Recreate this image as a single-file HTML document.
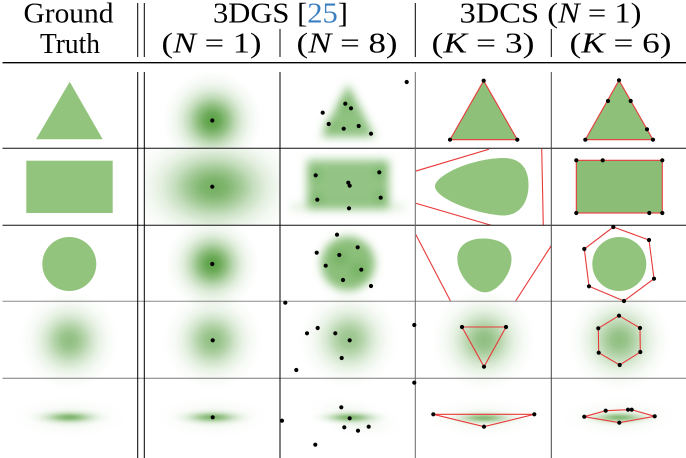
<!DOCTYPE html>
<html><head><meta charset="utf-8"><style>
html,body{margin:0;padding:0;background:#fff;}
svg{display:block;}
svg text{font-family:"Liberation Serif","Times New Roman",serif;fill:#000;}
</style></head><body>
<svg width="686" height="458" viewBox="0 0 686 458" xmlns="http://www.w3.org/2000/svg">
<defs>
<radialGradient id="g">
<stop offset="0" stop-color="#5aa044" stop-opacity="1"/>
<stop offset="0.15" stop-color="#5aa044" stop-opacity="0.9"/>
<stop offset="0.3" stop-color="#5aa044" stop-opacity="0.67"/>
<stop offset="0.45" stop-color="#5aa044" stop-opacity="0.4"/>
<stop offset="0.6" stop-color="#5aa044" stop-opacity="0.2"/>
<stop offset="0.75" stop-color="#5aa044" stop-opacity="0.08"/>
<stop offset="0.9" stop-color="#5aa044" stop-opacity="0.025"/>
<stop offset="1" stop-color="#5aa044" stop-opacity="0"/>
</radialGradient>
<filter id="b4" x="-30%" y="-30%" width="160%" height="160%"><feGaussianBlur stdDeviation="4.5"/></filter>
<clipPath id="c12"><rect x="145" y="149" width="134.5" height="76"/></clipPath>
<clipPath id="c11"><rect x="145" y="64" width="134.5" height="84"/></clipPath>
<clipPath id="c2"><rect x="281" y="64" width="134" height="394"/></clipPath>
<clipPath id="c3r2"><rect x="416" y="149" width="135" height="76"/></clipPath>
<clipPath id="c3r3"><rect x="416" y="226" width="135" height="75"/></clipPath>
</defs>

<g font-family="Liberation Serif, Times New Roman, serif" font-size="29">
<text x="68.5" y="22.5" text-anchor="middle" textLength="90" lengthAdjust="spacingAndGlyphs">Ground</text>
<text x="70" y="53" text-anchor="middle" textLength="60" lengthAdjust="spacingAndGlyphs">Truth</text>
<text x="213" y="22.5" textLength="135" lengthAdjust="spacingAndGlyphs">3DGS [<tspan style="fill:#3a7fc1">25</tspan>]</text>
<text x="161.5" y="52.5" textLength="100" lengthAdjust="spacingAndGlyphs">(<tspan font-style="italic">N</tspan> = 1)</text>
<text x="296.5" y="52.5" textLength="101" lengthAdjust="spacingAndGlyphs">(<tspan font-style="italic">N</tspan> = 8)</text>
<text x="459.5" y="22.5" textLength="182" lengthAdjust="spacingAndGlyphs">3DCS (<tspan font-style="italic">N</tspan> = 1)</text>
<text x="431.5" y="52.5" textLength="103" lengthAdjust="spacingAndGlyphs">(<tspan font-style="italic">K</tspan> = 3)</text>
<text x="569.5" y="52.5" textLength="102" lengthAdjust="spacingAndGlyphs">(<tspan font-style="italic">K</tspan> = 6)</text>
</g>

<path d="M137.7 3V57M144.3 3V57M280 29V57M415.3 3V57M551.3 29V57" stroke="#000" stroke-width="1" fill="none"/>
<line x1="2.5" y1="62.7" x2="686" y2="62.7" stroke="#000" stroke-width="1.4"/>

<!-- ROW 1 -->
<polygon points="69.7,81.7 36,139.3 102.7,139.3" fill="#93c47d"/>
<g clip-path="url(#c11)"><ellipse cx="212.3" cy="120.5" rx="50" ry="50" fill="url(#g)"/></g>
<g clip-path="url(#c2)" filter="url(#b4)">
<polygon points="348,84 321,137 375,137" fill="#6aad55" opacity="0.75"/>
<path d="M345 105m-6 0a6 6 0 1 0 12 0a6 6 0 1 0 -12 0M330 125m-6 0a6 6 0 1 0 12 0a6 6 0 1 0 -12 0" fill="#4f9a3a" opacity="0.3"/>
</g>
<polygon points="483.7,80.7 450,139.7 517.3,139.7" fill="#8fc07a" stroke="#e83a3a" stroke-width="1.1"/>
<polygon points="619,80.3 585.3,139.7 653,139.7" fill="#8fc07a" stroke="#e83a3a" stroke-width="1.1"/>

<!-- ROW 2 -->
<rect x="26.3" y="160.7" width="86.4" height="52.3" fill="#93c47d"/>
<g clip-path="url(#c12)"><ellipse cx="214" cy="187" rx="88" ry="62" fill="url(#g)" opacity="0.85"/></g>
<g clip-path="url(#c2)">
<g filter="url(#b4)">
<rect x="307" y="160" width="82" height="49" fill="#6aad55" opacity="0.72"/>
<rect x="290" y="204" width="115" height="6" fill="#6aad55" opacity="0.22"/>
<path d="M316 175h0M380 172h0M317 199h0M381 197h0" stroke="#4f9a3a" stroke-width="12" stroke-linecap="round" opacity="0.3"/>
</g>
</g>
<path d="M435,186 C436,175 470,159 502,158 C522,157.5 528.5,170 528.5,185 C528.5,202 520,215.5 503,215.5 C476,214.5 434,198 435,186 Z" fill="#93c47d"/>
<path clip-path="url(#c3r2)" d="M415 171.3L489 149.2M415 203L492 225.5M541.7 148L543.3 226" stroke="#e83a3a" stroke-width="1.1" fill="none"/>
<rect x="576.3" y="160.3" width="86" height="52.7" fill="#8bbd77" stroke="#e83a3a" stroke-width="1.1"/>

<!-- ROW 3 -->
<circle cx="69.3" cy="264" r="27" fill="#93c47d"/>
<ellipse cx="212.3" cy="264" rx="47" ry="47" fill="url(#g)"/>
<g filter="url(#b4)">
<circle cx="348" cy="263.5" r="27" fill="#6aad55" opacity="0.78"/>
<path d="M340 258h0M358 270h0" stroke="#4f9a3a" stroke-width="16" stroke-linecap="round" opacity="0.3"/>
</g>
<path d="M483,238.5 C500,238.5 512,246 511.5,260 C511,275 497,292.3 485,292.3 C473,292.3 457,275 457.3,258 C457.5,246 468,238.5 483,238.5 Z" fill="#93c47d"/>
<path clip-path="url(#c3r3)" d="M415 233L451 302M552 244.5L515 302" stroke="#e83a3a" stroke-width="1.1" fill="none"/>
<circle cx="619.3" cy="264" r="27" fill="#93c47d"/>
<polygon points="613.3,227 649,240 654,278.7 624,301 589,286.3 584.3,249" fill="none" stroke="#e83a3a" stroke-width="1.1"/>

<!-- ROW 4 -->
<ellipse cx="69.3" cy="340.5" rx="50" ry="50" fill="url(#g)" opacity="0.68"/>
<ellipse cx="212.7" cy="340.3" rx="50" ry="50" fill="url(#g)" opacity="0.68"/>
<ellipse cx="349" cy="339" rx="50" ry="50" fill="url(#g)" opacity="0.62"/>
<ellipse cx="484" cy="340" rx="52" ry="52" fill="url(#g)" opacity="0.68"/>
<polygon points="462,327 506,327 484,366.7" fill="none" stroke="#e83a3a" stroke-width="1.1"/>
<ellipse cx="619.3" cy="340" rx="52" ry="52" fill="url(#g)" opacity="0.68"/>
<polygon points="619,315.7 640,328 640.3,352 619.7,365 598.7,352.7 598.3,328.3" fill="none" stroke="#e83a3a" stroke-width="1.1"/>

<!-- ROW 5 -->
<ellipse cx="69.3" cy="417.3" rx="62" ry="22" fill="url(#g)" opacity="0.12"/>
<ellipse cx="69.3" cy="417.3" rx="42" ry="9" fill="url(#g)" opacity="0.75"/>
<ellipse cx="212.7" cy="417.3" rx="62" ry="22" fill="url(#g)" opacity="0.12"/>
<ellipse cx="212.7" cy="417.3" rx="42" ry="9" fill="url(#g)" opacity="0.75"/>
<g clip-path="url(#c2)">
<ellipse cx="355" cy="418" rx="50" ry="20" fill="url(#g)" opacity="0.15" transform="rotate(12 355 418)"/>
<ellipse cx="350" cy="417.5" rx="40" ry="8" fill="url(#g)" opacity="0.75"/>
</g>
<ellipse cx="484" cy="418" rx="62" ry="22" fill="url(#g)" opacity="0.12"/>
<ellipse cx="484" cy="418" rx="42" ry="8" fill="url(#g)" opacity="0.7"/>
<polygon points="433.3,414.3 534.3,414.3 484,426.7" fill="none" stroke="#e83a3a" stroke-width="1.1"/>
<ellipse cx="619.3" cy="417.5" rx="62" ry="22" fill="url(#g)" opacity="0.12"/>
<ellipse cx="619.3" cy="417.5" rx="42" ry="8" fill="url(#g)" opacity="0.7"/>
<polygon points="584.3,416.7 605.7,410.7 628,409.7 631.7,409.7 654.7,416.3 619.3,422.7" fill="none" stroke="#e83a3a" stroke-width="1.1"/>

<!-- Row dividers -->
<path d="M2.5 148.3H686M2.5 225.3H686" stroke="#111" stroke-width="1"/>
<path d="M2.5 301.3H686" stroke="#8a8a8a" stroke-width="1"/>
<path d="M2.5 378.3H686" stroke="#7a7a7a" stroke-width="1"/>

<!-- Body vertical lines -->
<path d="M137.7 72V458M144.3 72V458M280 72V458" stroke="#000" stroke-width="1"/>
<path d="M415.3 72V458" stroke="#666" stroke-width="1"/>
<path d="M551.3 72V458" stroke="#444" stroke-width="1"/>

<!-- Dots (zero-length round-capped segments) -->
<path stroke="#000" stroke-width="4.2" stroke-linecap="round" fill="none" d="
M212.3 120.5h0 M212.3 186.7h0 M212.3 264h0 M212.7 340.3h0 M212.7 417.3h0
M406.7 82h0 M345.3 103.7h0 M351 108.3h0 M322.7 112.7h0 M328.7 124h0 M343.7 128.7h0 M358.7 126h0 M371 133.7h0
M315.7 175.3h0 M379.3 172.3h0 M348.3 182.7h0 M349.7 185.7h0 M317.3 199.7h0 M380.7 197.7h0 M349 208.3h0
M337 234.7h0 M357.7 247.3h0 M316.7 252.7h0 M339.3 255h0 M325.7 265.7h0 M361.3 269.7h0 M343 280h0 M371 286h0
M285.3 302.7h0 M414.3 325h0 M317.7 328h0 M307 333.3h0 M335.3 333.3h0 M349.7 340.3h0 M341.7 358h0 M296.3 370h0
M414.3 382.7h0 M341.3 407.3h0 M282 420.7h0 M349.7 418.3h0 M344.3 427.3h0 M368.7 426.7h0 M358 430.7h0 M315.3 444.7h0
M483.7 80.7h0 M450 139.7h0 M517.3 139.7h0 M462 327h0 M506 327h0 M484 366.7h0 M433.3 414.3h0 M534.3 414.3h0 M484 426.7h0
M619 80.3h0 M585.3 139.7h0 M653 139.7h0 M608 101h0 M630.7 101h0 M647 129.3h0
M576.3 160.3h0 M602.7 160.3h0 M662.3 160.3h0 M576.3 213h0 M649.3 213h0 M662.3 213h0
M613.3 227h0 M649 240h0 M654 278.7h0 M624 301h0 M589 286.3h0 M584.3 249h0
M619 315.7h0 M640 328h0 M640.3 352h0 M619.7 365h0 M598.7 352.7h0 M598.3 328.3h0
M584.3 416.7h0 M605.7 410.7h0 M628 409.7h0 M631.7 409.7h0 M654.7 416.3h0 M619.3 422.7h0"/>
</svg>
</body></html>
